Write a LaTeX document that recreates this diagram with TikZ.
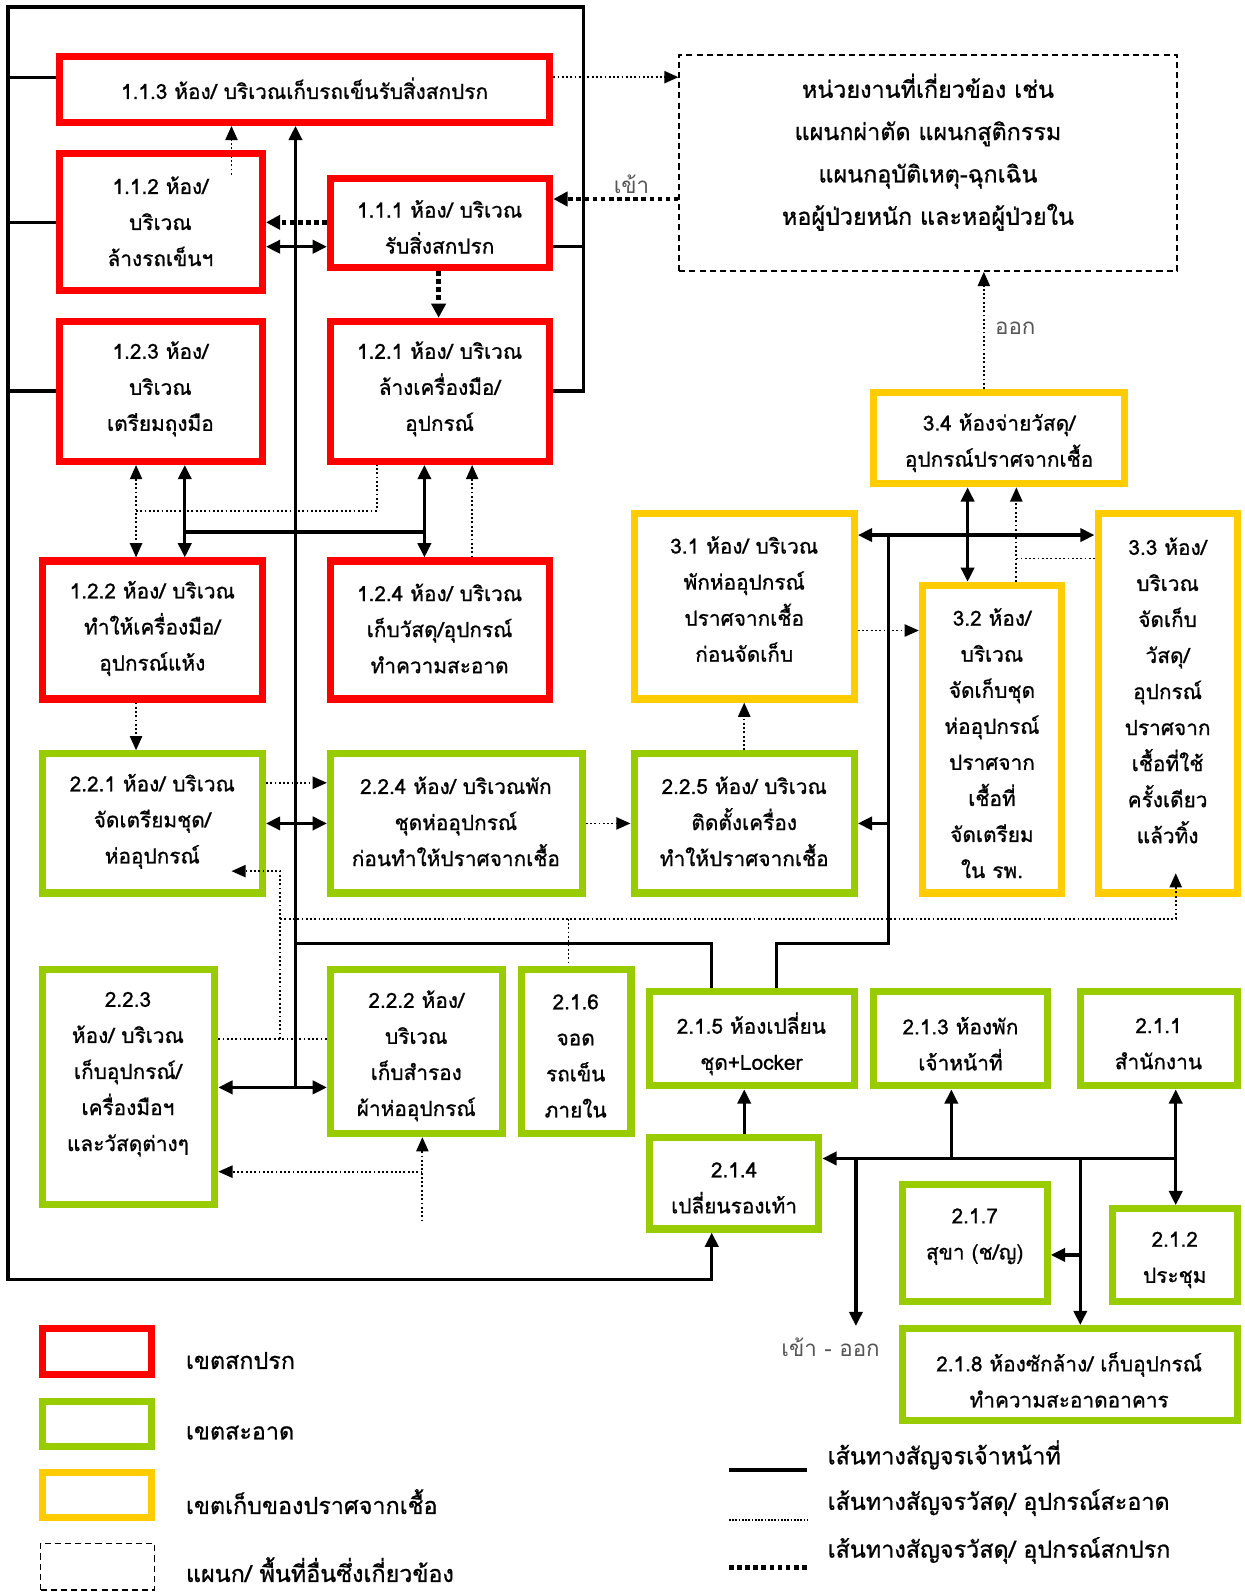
\documentclass[tikz,border=0pt]{standalone}
\usepackage{fontspec}
\setmainfont[Script=Thai,FakeBold=0.9]{Loma}
\newfontfamily\lightfont[Script=Thai]{Loma}
\usetikzlibrary{arrows.meta}
\definecolor{zred}{HTML}{FF0000}
\definecolor{zgreen}{HTML}{99CC00}
\definecolor{zyel}{HTML}{FFCC00}
\definecolor{zgray}{HTML}{555555}
\newcommand\zzbox[6]{\node[#1, minimum width={#5-#3-7}, minimum height={#6-#4-7}] (#2) at ({(#3+#5)/2},{(#4+#6)/2}) {};}
\begin{document}
\begin{tikzpicture}[x=1pt,y=-1pt,
 zbox/.style={draw, line width=7pt, inner sep=0pt},
 rbox/.style={zbox, draw=zred},
 gbox/.style={zbox, draw=zgreen},
 ybox/.style={zbox, draw=zyel},
 dbox/.style={draw, line width=1.5pt, dash pattern=on 6pt off 4pt, inner sep=0pt},
 txt/.style={align=center, inner sep=0pt, font=\fontsize{20.5}{35.5}\selectfont},
 bigtxt/.style={align=center, inner sep=0pt, font=\fontsize{23}{41.7}\selectfont},
 lgtxt/.style={anchor=west, inner sep=0pt, font=\fontsize{23}{27}\selectfont},
 lbl/.style={inner sep=0pt, text=zgray, font=\lightfont\fontsize{22}{26}\selectfont},
 staff/.style={line width=3.2pt},
 sarr/.style={staff, -{Triangle[length=14pt,width=13pt]}},
 sdbl/.style={staff, {Triangle[length=14pt,width=13pt]}-{Triangle[length=14pt,width=13pt]}},
 clean/.style={line width=1.8pt, dash pattern=on 1.8pt off 2.4pt},
 carr/.style={clean, -{Triangle[length=14pt,width=12pt]}},
 cdbl/.style={clean, {Triangle[length=14pt,width=12pt]}-{Triangle[length=14pt,width=12pt]}},
 dirty/.style={line width=4.5pt, dash pattern=on 4.5pt off 3.5pt},
 darr/.style={dirty, -{Triangle[length=14pt,width=14pt]}},
]
\useasboundingbox (0,0) rectangle (1226,1568);

% ---------- boxes ----------
\zzbox{rbox}{b113}{55}{52}{545}{124}
\zzbox{rbox}{b112}{55}{148}{262}{290}
\zzbox{rbox}{b111}{322}{172}{545}{267}
\zzbox{rbox}{b123}{55}{313}{262}{458}
\zzbox{rbox}{b121}{322}{313}{545}{458}
\zzbox{rbox}{b122}{38}{549}{262}{692}
\zzbox{rbox}{b124}{322}{549}{545}{692}
\zzbox{gbox}{b221}{38}{739}{262}{883}
\zzbox{gbox}{b224}{322}{739}{577}{883}
\zzbox{gbox}{b225}{621}{739}{845}{883}
\zzbox{ybox}{b31}{621}{502}{845}{692}
\zzbox{ybox}{b34}{857}{383}{1111}{480}
\zzbox{ybox}{b32}{905}{573}{1049}{883}
\zzbox{ybox}{b33}{1078}{502}{1222}{883}
\zzbox{gbox}{b223}{38}{951}{215}{1190}
\zzbox{gbox}{b222}{322}{951}{498}{1120}
\zzbox{gbox}{b216}{510}{951}{625}{1120}
\zzbox{gbox}{b215}{636}{973}{845}{1073}
\zzbox{gbox}{b213}{857}{973}{1035}{1073}
\zzbox{gbox}{b211}{1061}{973}{1222}{1073}
\zzbox{gbox}{b214}{636}{1117}{810}{1214}
\zzbox{gbox}{b217}{885}{1163}{1035}{1285}
\zzbox{gbox}{b212}{1092}{1187}{1222}{1285}
\zzbox{gbox}{b218}{885}{1305}{1222}{1403}
\node[dbox, minimum width=490, minimum height=213] (bdash) at (914,160.5) {};

% ---------- texts ----------
\node[txt] (t113) at (300,87) {1.1.3 ห้อง/ บริเวณเก็บรถเข็นรับสิ่งสกปรก};
\node[txt] (t112) at (158,218) {1.1.2 ห้อง/\\บริเวณ\\ล้างรถเข็นฯ};
\node[txt] (t111) at (433,223.5) {1.1.1 ห้อง/ บริเวณ\\รับสิ่งสกปรก};
\node[txt] (t123) at (158,383) {1.2.3 ห้อง/\\บริเวณ\\เตรียมถุงมือ};
\node[txt] (t121) at (433,383) {1.2.1 ห้อง/ บริเวณ\\ล้างเครื่องมือ/\\อุปกรณ์};
\node[txt] (t122) at (150,619) {1.2.2 ห้อง/ บริเวณ\\ทำให้เครื่องมือ/\\อุปกรณ์แห้ง};
\node[txt] (t124) at (433,619) {1.2.4 ห้อง/ บริเวณ\\เก็บวัสดุ/อุปกรณ์\\ทำความสะอาด};
\node[txt] (t221) at (150,809) {2.2.1 ห้อง/ บริเวณ\\จัดเตรียมชุด/\\ห่ออุปกรณ์};
\node[txt] (t224) at (449,809) {2.2.4 ห้อง/ บริเวณพัก\\ชุดห่ออุปกรณ์\\ก่อนทำให้ปราศจากเชื้อ};
\node[txt] (t225) at (733,809) {2.2.5 ห้อง/ บริเวณ\\ติดตั้งเครื่อง\\ทำให้ปราศจากเชื้อ};
\node[txt] (t31) at (733,590) {3.1 ห้อง/ บริเวณ\\พักห่ออุปกรณ์\\ปราศจากเชื้อ\\ก่อนจัดเก็บ};
\node[txt] (t34) at (984,436) {3.4 ห้องจ่ายวัสดุ/\\อุปกรณ์ปราศจากเชื้อ};
\node[txt] (t32) at (977,732) {3.2 ห้อง/\\บริเวณ\\จัดเก็บชุด\\ห่ออุปกรณ์\\ปราศจาก\\เชื้อที่\\จัดเตรียม\\ใน รพ.};
\node[txt] (t33) at (1150,680) {3.3 ห้อง/\\บริเวณ\\จัดเก็บ\\วัสดุ/\\อุปกรณ์\\ปราศจาก\\เชื้อที่ใช้\\ครั้งเดียว\\แล้วทิ้ง};
\node[bigtxt] (tdash) at (914,150) {หน่วยงานที่เกี่ยวข้อง เช่น\\แผนกผ่าตัด แผนกสูติกรรม\\แผนกอุบัติเหตุ-ฉุกเฉิน\\หอผู้ป่วยหนัก และหอผู้ป่วยใน};
\node[txt] (t223) at (126,1058) {2.2.3\\ห้อง/ บริเวณ\\เก็บอุปกรณ์/\\เครื่องมือฯ\\และวัสดุต่างๆ};
\node[txt] (t222) at (410,1040) {2.2.2 ห้อง/\\บริเวณ\\เก็บสำรอง\\ผ้าห่ออุปกรณ์};
\node[txt] (t216) at (567,1040) {2.1.6\\จอด\\รถเข็น\\ภายใน};
\node[txt] (t215) at (740,1028) {2.1.5 ห้องเปลี่ยน\\ชุด+Locker};
\node[txt] (t213) at (946,1028) {2.1.3 ห้องพัก\\เจ้าหน้าที่};
\node[txt] (t211) at (1141,1028) {2.1.1\\สำนักงาน};
\node[txt] (t214) at (723,1170) {2.1.4\\เปลี่ยนรองเท้า};
\node[txt] (t217) at (960,1218) {2.1.7\\สุขา (ช/ญ)};
\node[txt] (t212) at (1157,1241) {2.1.2\\ประชุม};
\node[txt] (t218) at (1053,1359) {2.1.8 ห้องซักล้าง/ เก็บอุปกรณ์\\ทำความสะอาดอาคาร};

% ---------- staff routes (solid) ----------
\coordinate (fTL) at (8,7);
\coordinate (fTR) at (575,7);
\coordinate (fBL) at (8,1260);
\coordinate (fBR) at (701,1260);
\draw[sarr, line join=miter] (b121.east |- 0,385) -- (fTR |- 0,385) -- (fTR) -- (fTL) -- (fBL) -- (fBR) -- (fBR |- b214.south);
\draw[staff] (fTL |- 0,76) -- (b113.west |- 0,76);
\draw[staff] (fTL |- 0,219) -- (b112.west |- 0,219);
\draw[staff] (fTL |- 0,385) -- (b123.west |- 0,385);
\draw[staff] (b111.east |- 0,243) -- (fTR |- 0,243);
\coordinate (sp1) at (291,1071);
\draw[sarr] (sp1) -- (sp1 |- b113.south);
\draw[sdbl] (b112.east |- 0,243) -- (b111.west |- 0,243);
\draw[staff] (182,524) -- (418,524);
\draw[sdbl] (b123.south -| 182,0) -- (b122.north -| 182,0);
\draw[sdbl] (b121.south -| 418,0) -- (b124.north -| 418,0);
\draw[sdbl] (b221.east |- 0,811) -- (b224.west |- 0,811);
\draw[sdbl] (b223.east |- 0,1071) -- (b222.west |- 0,1071);
\draw[staff, line join=miter] (291,929) -| (b215.north -| 701,0);
\draw[staff, line join=miter] (b215.north -| 765,0) |- (875,929) -- (875,527);
\draw[sdbl] (b31.east |- 0,527) -- (b33.west |- 0,527);
\draw[sarr] (875,811) -- (b225.east |- 0,811);
\draw[sdbl] (b34.south -| 953,0) -- (b32.north -| 953,0);
\draw[sarr] (b214.north -| 733,0) -- (b215.south -| 733,0);
\draw[sarr] (1158,1141) -- (b214.east |- 0,1141);
\draw[sarr] (937,1141) -- (b213.south -| 937,0);
\draw[sdbl] (b211.south -| 1158,0) -- (b212.north -| 1158,0);
\coordinate (exitpt) at (843,1306);
\draw[sarr] (843,1141) -- (exitpt);
\draw[sarr] (1064,1141) -- (b218.north -| 1064,0);
\draw[sarr] (1064,1236) -- (b217.east |- 0,1236);

% ---------- clean material routes (fine dotted) ----------
\draw[carr] (b113.east |- 0,76) -- (bdash.west |- 0,76);
\draw[carr] (228,172) -- (b113.south -| 228,0);
\draw[cdbl] (b123.south -| 134,0) -- (b122.north -| 134,0);
\draw[clean] (134,503) -| (b121.south -| 371,0);
\draw[carr] (b124.north -| 465,0) -- (b121.south -| 465,0);
\draw[carr] (b122.south -| 134,0) -- (b221.north -| 134,0);
\draw[carr] (b221.east |- 0,771) -- (b224.west |- 0,771);
\draw[carr] (b224.east |- 0,811) -- (b225.west |- 0,811);
\draw[carr] (b225.north -| 733,0) -- (b31.south -| 733,0);
\draw[carr] (b31.east |- 0,621) -- (b32.west |- 0,621);
\draw[carr] (b32.north -| 1001,0) -- (b34.south -| 1001,0);
\draw[clean] (1001,550) -- (b33.west |- 0,550);
\draw[carr] (b34.north -| 969,0) -- (bdash.south -| 969,0);
\draw[carr] (276,1023) -- (276,858) -- (228,858);
\draw[clean] (b223.east |- 0,1023) -- (b222.west |- 0,1023);
\draw[carr] (276,905) -| (1158,860);
\draw[clean] (560,905) -- (b216.north -| 560,0);
\draw[carr] (416,1203) -- (b222.south -| 416,0);
\draw[carr] (416,1154) -- (b223.east |- 0,1154);

% ---------- dirty material routes (heavy dotted) ----------
\draw[darr] (bdash.west |- 0,196) -- (b111.east |- 0,196);
\draw[darr] (b111.west |- 0,219) -- (b112.east |- 0,219);
\draw[darr] (b111.south -| 432,0) -- (b121.north -| 432,0);

% ---------- labels ----------
\node[lbl] (lin) at (622,181) {เข้า};
\node[lbl] (lout) at (1000,323) {ออก};
\node[lbl] (lio) at (818,1327) {เข้า - ออก};

% ---------- legend ----------
\zzbox{rbox}{lg1}{38}{1305}{153}{1357}
\zzbox{gbox}{lg2}{38}{1377}{153}{1428}
\zzbox{ybox}{lg3}{38}{1447}{153}{1498}
\node[dbox, minimum width=112, minimum height=46] (lg4) at (96,1543) {};
\node[lgtxt] (lt1) at (183,1340) {เขตสกปรก};
\node[lgtxt] (lt2) at (183,1411) {เขตสะอาด};
\node[lgtxt] (lt3) at (183,1479) {เขตเก็บของปราศจากเชื้อ};
\node[lgtxt] (lt4) at (183,1546) {แผนก/ พื้นที่อื่นซึ่งเกี่ยวข้อง};
\coordinate (la1) at (718,1448); \coordinate (lb1) at (795,1448);
\coordinate (la2) at (718,1497); \coordinate (lb2) at (795,1497);
\coordinate (la3) at (718,1544); \coordinate (lb3) at (795,1544);
\draw[staff, line width=4pt] (la1) -- (lb1);
\draw[clean, line width=1.5pt, dash pattern=on 1.5pt off 1.7pt] (la2) -- (lb2);
\draw[dirty] (la3) -- (lb3);
\node[lgtxt] (ll1) at (815,1433) {เส้นทางสัญจรเจ้าหน้าที่};
\node[lgtxt] (ll2) at (815,1480) {เส้นทางสัญจรวัสดุ/ อุปกรณ์สะอาด};
\node[lgtxt] (ll3) at (815,1527) {เส้นทางสัญจรวัสดุ/ อุปกรณ์สกปรก};
\end{tikzpicture}
\end{document}
